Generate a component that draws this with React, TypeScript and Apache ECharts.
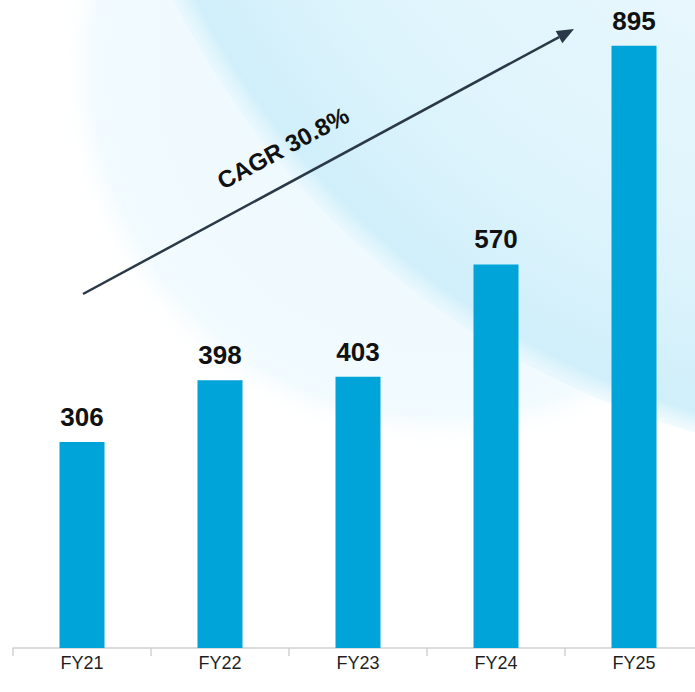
import React, { useEffect, useRef } from "react";
import * as echarts from "echarts";

const categories = ["FY21", "FY22", "FY23", "FY24", "FY25"];
const revenue = [306, 398, 403, 570, 895];
const cagrLabel = "CAGR 30.8%";

export default function App() {
  const ref = useRef<HTMLDivElement>(null);

  useEffect(() => {
    if (!ref.current) return;
    const chart = echarts.init(ref.current, undefined, { renderer: "svg" });

    const start = [83, 294];
    const tip = [574, 29];
    const dx = tip[0] - start[0];
    const dy = tip[1] - start[1];
    const len = Math.sqrt(dx * dx + dy * dy);
    const ux = dx / len;
    const uy = dy / len;
    const nx = -uy;
    const ny = ux;
    const headLen = 17;
    const headHalf = 7;
    const bx = tip[0] - headLen * ux;
    const by = tip[1] - headLen * uy;
    const angle = Math.atan2(-dy, dx);

    chart.setOption({
      animation: false,
      backgroundColor: "#ffffff",
      grid: { left: 13, width: 690, top: 2, bottom: 44 },
      xAxis: {
        type: "category",
        data: categories,
        boundaryGap: true,
        axisLine: { show: true, lineStyle: { color: "#d0d0d0", width: 1.5 } },
        axisTick: { show: true, length: 8, lineStyle: { color: "#d0d0d0", width: 1.5 } },
        axisLabel: {
          color: "#1f1f1f",
          fontSize: 18,
          fontFamily: "Liberation Sans, Arial, sans-serif",
          margin: 6,
        },
      },
      yAxis: {
        type: "value",
        min: 0,
        max: 960,
        show: false,
        splitLine: { show: false },
      },
      graphic: [
        {
          type: "circle",
          z: -12,
          silent: true,
          shape: { cx: 441, cy: 68, r: 385 },
          style: {
            fill: {
              type: "radial",
              x: 0.5,
              y: 0.5,
              r: 0.5,
              colorStops: [
                { offset: 0, color: "rgba(236,249,254,1)" },
                { offset: 0.9, color: "rgba(240,250,254,0.9)" },
                { offset: 1, color: "rgba(255,255,255,0)" },
              ],
            },
          },
        },
        {
          type: "circle",
          z: -10,
          silent: true,
          shape: { cx: 925, cy: -375, r: 840 },
          style: {
            fill: {
              type: "radial",
              x: 0.5,
              y: 0.5,
              r: 0.5,
              colorStops: [
                { offset: 0, color: "rgba(236,249,254,1)" },
                { offset: 0.5, color: "rgba(232,247,253,1)" },
                { offset: 0.8, color: "rgba(222,244,252,1)" },
                { offset: 0.975, color: "rgba(208,239,250,1)" },
                { offset: 1, color: "rgba(225,245,252,0.4)" },
              ],
            },
          },
        },
        {
          type: "line",
          z: 10,
          silent: true,
          shape: { x1: start[0], y1: start[1], x2: bx, y2: by },
          style: { stroke: "#2b3848", lineWidth: 2.5 },
        },
        {
          type: "polygon",
          z: 10,
          silent: true,
          shape: {
            points: [
              [tip[0], tip[1]],
              [bx + headHalf * nx, by + headHalf * ny],
              [bx - headHalf * nx, by - headHalf * ny],
            ],
          },
          style: { fill: "#2b3848" },
        },
        {
          type: "text",
          z: 10,
          silent: true,
          x: 283,
          y: 148,
          rotation: angle,
          style: {
            text: cagrLabel,
            fill: "#111111",
            font: "bold 24px 'Liberation Sans', Arial, sans-serif",
            align: "center",
            verticalAlign: "middle",
          },
        },
      ],
      series: [
        {
          type: "bar",
          data: revenue,
          barWidth: 45,
          itemStyle: { color: "#00a4d8" },
          label: {
            show: true,
            position: "top",
            distance: 12,
            color: "#111111",
            fontSize: 26,
            fontWeight: "bold",
            fontFamily: "Liberation Sans, Arial, sans-serif",
          },
        },
      ],
    });

    return () => chart.dispose();
  }, []);

  return (
    <div
      style={{
        position: "absolute",
        left: 0,
        top: 0,
        width: 695,
        height: 692,
        overflow: "hidden",
        background: "#ffffff",
      }}
    >
      <div ref={ref} style={{ width: 710, height: 692 }} />
    </div>
  );
}
